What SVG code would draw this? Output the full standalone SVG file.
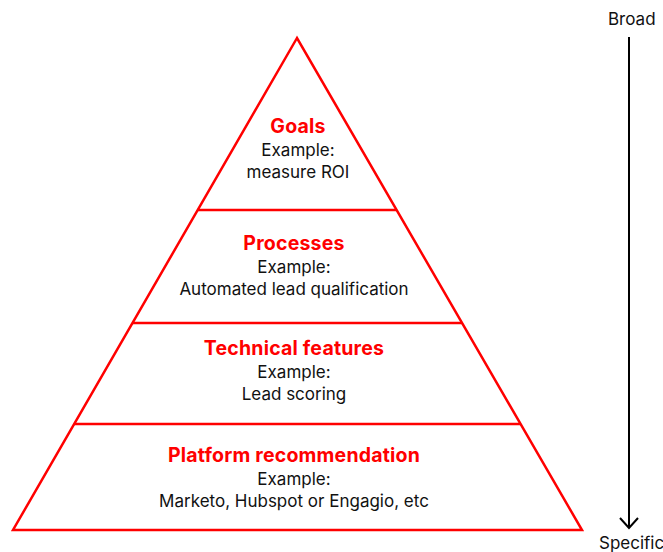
<svg xmlns="http://www.w3.org/2000/svg" width="663" height="552" viewBox="0 0 663 552">
  <style>
    .edge { fill: none; stroke: #ff0000; stroke-width: 2.5; stroke-linejoin: miter; }
    .title { font-family: Inter, "Liberation Sans", Arial, sans-serif; font-size: 19.5px; font-weight: 700; fill: #ff0000; text-anchor: middle; letter-spacing: 0.2px; }
    .body { font-family: Inter, "Liberation Sans", Arial, sans-serif; font-size: 17px; fill: #111111; text-anchor: middle; }
    .axis { font-family: Inter, "Liberation Sans", Arial, sans-serif; font-size: 17px; fill: #111111; }
    .arrow { fill: none; stroke: #000000; stroke-width: 2; }
  </style>
  <rect width="663" height="552" fill="#ffffff"/>

  <!-- pyramid outline and tier dividers -->
  <g id="pyramid">
    <polygon class="edge" points="297,38 13,530 582,530"/>
    <line class="edge" x1="197.7" y1="210" x2="396.6" y2="210"/>
    <line class="edge" x1="132.5" y1="323" x2="462" y2="323"/>
    <line class="edge" x1="74.2" y1="424" x2="520.6" y2="424"/>
  </g>

  <g id="goals">
    <text class="title" x="298" y="133">Goals</text>
    <text class="body" x="298" y="156">Example:</text>
    <text class="body" x="298" y="178">measure ROI</text>
  </g>

  <g id="processes">
    <text class="title" x="294" y="250">Processes</text>
    <text class="body" x="294" y="273">Example:</text>
    <text class="body" x="294" y="295">Automated lead qualification</text>
  </g>

  <g id="technical-features">
    <text class="title" x="294" y="355">Technical features</text>
    <text class="body" x="294" y="378">Example:</text>
    <text class="body" x="294" y="400">Lead scoring</text>
  </g>

  <g id="platform-recommendation">
    <text class="title" x="294" y="462">Platform recommendation</text>
    <text class="body" x="294" y="485">Example:</text>
    <text class="body" x="294" y="507">Marketo, Hubspot or Engagio, etc</text>
  </g>

  <!-- broad-to-specific axis -->
  <g id="connectors">
    <line class="arrow" x1="629" y1="37" x2="629" y2="528"/>
    <polyline class="arrow" points="620,518 629,528 638,518"/>
  </g>
  <g id="axis-labels">
    <text class="axis" x="608" y="25">Broad</text>
    <text class="axis" x="599" y="549">Specific</text>
  </g>
</svg>
